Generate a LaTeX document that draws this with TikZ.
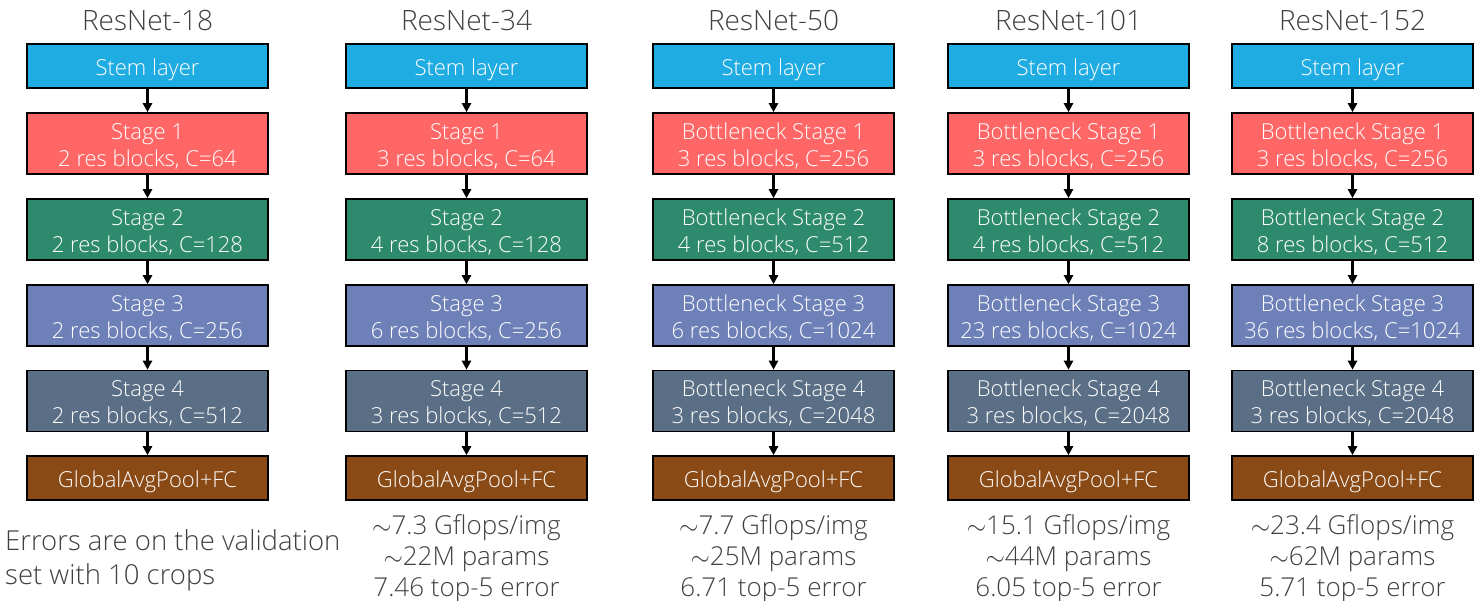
\documentclass[tikz,border=0pt]{standalone}
\usepackage{fontspec}
\setmainfont{Open Sans}[UprightFont=*-Light]
\usetikzlibrary{arrows.meta}
\definecolor{cstem}{HTML}{1FACE2}
\definecolor{cs1}{HTML}{FF6666}
\definecolor{cs2}{HTML}{2E8A6C}
\definecolor{cs3}{HTML}{6E80B8}
\definecolor{cs4}{HTML}{5A6F85}
\definecolor{cpool}{HTML}{8A4A16}
\definecolor{ctxt}{HTML}{404040}
\tikzset{
  blk/.style={draw=black, line width=1.6pt, minimum width=241pt, text=white, align=center, font=\fontsize{22}{27}\selectfont, inner sep=0pt},
  short/.style={blk, minimum height=44pt},
  tall/.style={blk, minimum height=61pt},
  ttl/.style={text=ctxt, font=\fontsize{28}{30}\selectfont},
  stat/.style={text=ctxt, align=center, inner sep=0pt, font=\fontsize{26}{31}\selectfont},
  arr/.style={-{Triangle[length=9pt,width=9pt]}, line width=2.4pt, black, shorten >=0pt},
}
\newcommand{\upS}{\rule{0pt}{24.5pt}}
\newcommand{\upT}{\rule{0pt}{21pt}}
\begin{document}
\begin{tikzpicture}[x=1pt,y=-1pt]
\useasboundingbox (0,0) rectangle (1478,600);
\newcommand{\col}[7]{%
  \node[ttl] (#1t) at (#2,20) {#3};
  \node[short, fill=cstem] (#1a) at (#2,66) {\upS Stem layer};
  \node[tall, fill=cs1] (#1b) at (#2,143.5) {\upT #4};
  \node[tall, fill=cs2] (#1c) at (#2,229.5) {\upT #5};
  \node[tall, fill=cs3] (#1d) at (#2,315.5) {\upT #6};
  \node[tall, fill=cs4] (#1e) at (#2,401) {\upT #7};
  \node[short, fill=cpool] (#1f) at (#2,478) {\upS GlobalAvgPool+FC};
  \draw[arr] (#1a) -- (#1b);
  \draw[arr] (#1b) -- (#1c);
  \draw[arr] (#1c) -- (#1d);
  \draw[arr] (#1d) -- (#1e);
  \draw[arr] (#1e) -- (#1f);
}
\col{p}{147.5}{ResNet-18}{Stage 1\\2 res blocks, C=64}{Stage 2\\2 res blocks, C=128}{Stage 3\\2 res blocks, C=256}{Stage 4\\2 res blocks, C=512}
\col{q}{466.5}{ResNet-34}{Stage 1\\3 res blocks, C=64}{Stage 2\\4 res blocks, C=128}{Stage 3\\6 res blocks, C=256}{Stage 4\\3 res blocks, C=512}
\col{r}{773.5}{ResNet-50}{Bottleneck Stage 1\\3 res blocks, C=256}{Bottleneck Stage 2\\4 res blocks, C=512}{Bottleneck Stage 3\\6 res blocks, C=1024}{Bottleneck Stage 4\\3 res blocks, C=2048}
\col{s}{1068.5}{ResNet-101}{Bottleneck Stage 1\\3 res blocks, C=256}{Bottleneck Stage 2\\4 res blocks, C=512}{Bottleneck Stage 3\\23 res blocks, C=1024}{Bottleneck Stage 4\\3 res blocks, C=2048}
\col{u}{1352.5}{ResNet-152}{Bottleneck Stage 1\\3 res blocks, C=256}{Bottleneck Stage 2\\8 res blocks, C=512}{Bottleneck Stage 3\\36 res blocks, C=1024}{Bottleneck Stage 4\\3 res blocks, C=2048}
\node[stat, anchor=north] (qs) at (466.5,514) {$\sim$7.3 Gflops/img\\$\sim$22M params\\7.46 top-5 error};
\node[stat, anchor=north] (rs) at (773.5,514) {$\sim$7.7 Gflops/img\\$\sim$25M params\\6.71 top-5 error};
\node[stat, anchor=north] (ss) at (1068.5,514) {$\sim$15.1 Gflops/img\\$\sim$44M params\\6.05 top-5 error};
\node[stat, anchor=north] (us) at (1352.5,514) {$\sim$23.4 Gflops/img\\$\sim$62M params\\5.71 top-5 error};
\node[text=ctxt, align=left, anchor=north west, inner sep=0pt, font=\fontsize{27.5}{34}\selectfont] (note) at (5,529) {Errors are on the validation\\set with 10 crops};
\end{tikzpicture}
\end{document}
